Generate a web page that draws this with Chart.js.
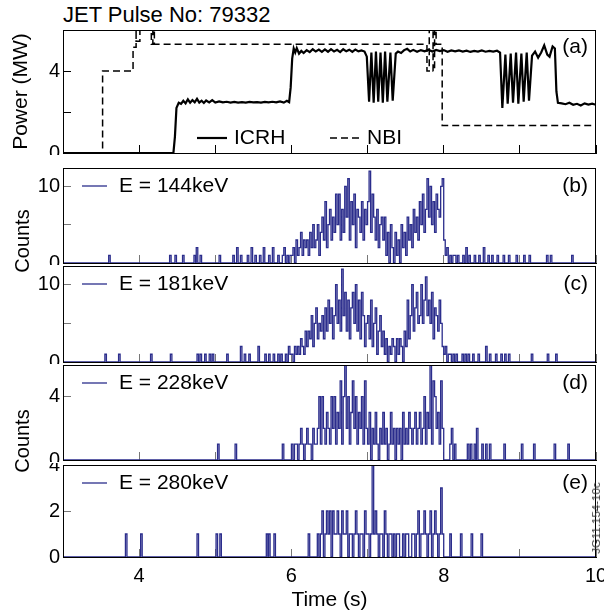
<!DOCTYPE html>
<html>
<head>
<meta charset="utf-8">
<script src="https://cdn.jsdelivr.net/npm/chart.js@4.4.0/dist/chart.umd.min.js"></script>
<style>
body { margin: 0; background: #fff; }
#wrap { position: relative; width: 604px; height: 613px; overflow: hidden; font-family: "Liberation Sans", Arial, sans-serif; color: #000; }
canvas { position: absolute; left: 0; }
.txt { position: absolute; white-space: nowrap; }
.rot { position: absolute; white-space: nowrap; transform: translate(-50%, -50%) rotate(-90deg); }
</style>
</head>
<body>
<div id="wrap">
  <div class="txt" style="left:63px;top:3px;font-size:22px;line-height:24px;">JET Pulse No: 79332</div>
  <canvas id="pa" width="604" height="127" style="top:28px"></canvas>
  <canvas id="pb" width="604" height="99" style="top:166px"></canvas>
  <canvas id="pc" width="604" height="100" style="top:264px"></canvas>
  <canvas id="pd" width="604" height="99" style="top:363px"></canvas>
  <canvas id="pe" width="604" height="150" style="top:463px"></canvas>
  <div class="rot" style="left:22px;top:241px;font-size:20px;">Counts</div>
  <div class="rot" style="left:22px;top:441px;font-size:20px;">Counts</div>
  <div class="rot" style="left:596px;top:518px;font-size:11.5px;color:#333;">JG11.154-10c</div>
</div>
<script>
// panel (a): heating power (MW)
var icrhT = [3.00, 4.45, 4.47, 4.49, 4.52, 4.55, 4.58, 4.61, 4.64, 4.67, 4.70, 4.73, 4.76, 4.79, 4.82, 4.85, 4.88, 4.92, 4.96,
  5.00, 5.05, 5.10, 5.15, 5.20, 5.25, 5.30, 5.35, 5.40, 5.45, 5.50, 5.55, 5.60, 5.65, 5.70, 5.75, 5.80, 5.85, 5.90, 5.94, 5.97,
  5.99, 6.01, 6.03, 6.05, 6.07, 6.10, 6.13, 6.16, 6.20, 6.24, 6.28, 6.32, 6.36, 6.40, 6.44, 6.48, 6.52, 6.56, 6.60, 6.64, 6.68,
  6.72, 6.76, 6.80, 6.84, 6.88, 6.92, 6.96, 6.99, 7.02, 7.05, 7.08, 7.11, 7.14, 7.17, 7.20, 7.23, 7.26, 7.30, 7.33, 7.37, 7.40,
  7.44, 7.48, 7.52, 7.56, 7.60, 7.65, 7.70, 7.75, 7.80, 7.85, 7.90, 7.95, 8.00, 8.05, 8.10, 8.15, 8.20, 8.25, 8.30, 8.35, 8.40,
  8.45, 8.50, 8.55, 8.60, 8.65, 8.70, 8.74, 8.77, 8.81, 8.84, 8.88, 8.91, 8.95, 8.98, 9.02, 9.05, 9.09, 9.12, 9.16, 9.20, 9.24,
  9.28, 9.32, 9.36, 9.39, 9.43, 9.46, 9.48, 9.50, 9.55, 9.60, 9.65, 9.70, 9.75, 9.80, 9.85, 9.90, 9.95, 10.00];
var icrhP = [0, 0, 0.8, 2.2, 2.45, 2.40, 2.55, 2.42, 2.62, 2.45, 2.58, 2.47, 2.64, 2.46, 2.55, 2.44, 2.56, 2.47, 2.58,
  2.46, 2.52, 2.47, 2.50, 2.46, 2.49, 2.46, 2.48, 2.46, 2.49, 2.47, 2.48, 2.46, 2.49, 2.47, 2.50, 2.47, 2.52, 2.46, 2.55, 2.48,
  3.2, 4.6, 5.1, 4.9, 5.12, 4.85, 4.98, 4.88, 5.02, 4.92, 5.06, 4.95, 5.04, 4.93, 5.05, 4.94, 5.07, 4.95, 5.03, 4.92, 5.06,
  4.96, 5.04, 4.93, 5.05, 4.96, 5.00, 4.95, 4.7, 2.5, 4.9, 2.45, 4.95, 2.5, 4.9, 2.45, 4.95, 2.5, 4.9, 2.55, 4.85, 4.95,
  4.88, 5.02, 5.08, 4.95, 5.03, 4.94, 5.02, 4.96, 5.04, 4.95, 5.03, 4.97, 5.02, 4.94, 5.00, 4.96, 5.00, 4.95, 4.99, 4.93, 4.98,
  4.95, 5.00, 4.94, 4.98, 4.95, 4.99, 4.9, 2.2, 4.8, 2.4, 4.85, 2.45, 4.9, 2.4, 4.85, 2.5, 4.9, 2.55, 4.75, 4.95, 4.65,
  4.9, 5.25, 4.8, 4.7, 5.2, 5.1, 3.0, 2.45, 2.42, 2.38, 2.45, 2.35, 2.40, 2.32, 2.42, 2.36, 2.41, 2.35];
var nbiT = [3.00, 3.52, 3.52, 3.92, 3.92, 3.96, 3.96, 3.96, 4.01, 4.01, 4.16, 4.16, 4.18, 4.18, 4.20, 4.20,
  7.78, 7.78, 7.81, 7.81, 7.86, 7.86, 7.88, 7.88, 7.90, 7.90, 7.98, 7.98, 10.00];
var nbiP = [0, 0, 4.0, 4.0, 5.16, 5.16, 6.6, 5.45, 5.45, 6.6, 6.6, 5.3, 5.3, 6.6, 6.6, 5.3,
  5.3, 4.0, 4.0, 6.6, 6.6, 4.0, 4.0, 6.6, 6.6, 5.3, 5.3, 1.34, 1.34];

// panels (b)-(e): counts in 0.02 s bins from 5.80 s to 8.20 s
var T0 = 5.80, DT = 0.02;
var energies = ['144', '181', '228', '280'];
var counts144 = [0,1,0,0,1,2,0,1,0,1, 1,2,0,3,1,2,4,1,3,2, 3,1,4,2,5,2,3,5,1,4, 6,3,8,2,5,7,3,6,4,9,
  5,9,3,7,4,10,6,11,3,8, 5,9,2,7,6,4,8,3,7,5, 8,12,4,9,6,3,7,2,5,6, 3,6,1,4,0,5,2,0,4,1,
  3,0,5,2,4,1,6,3,5,2, 7,4,6,3,8,5,9,4,7,11, 6,10,5,8,4,9,7,6,10,11, 3,1,2,0,1,0,1,1,0,1, 0];
var counts181 = [0,1,0,1,0,0,1,0,2,1, 1,0,2,1,2,1,3,2,1,4, 2,4,3,6,2,5,7,3,5,4, 6,3,7,4,8,5,7,3,6,10,
  5,8,4,12,6,9,4,8,3,7, 9,5,10,4,8,3,9,6,2,5, 6,3,8,2,5,7,1,4,6,2, 4,1,3,0,2,1,3,2,0,3,
  1,3,2,0,4,2,8,3,6,10, 4,7,9,5,6,10,5,8,11,6, 8,5,9,3,7,6,4,8,5,2, 1,2,0,1,1,0,1,0,1,0, 0];
var counts228 = [0,0,0,0,1,0,0,0,0,0, 1,0,1,1,0,1,2,1,0,1, 2,1,1,0,2,1,1,2,4,1, 4,2,1,3,2,1,4,2,4,1,
  3,2,5,1,4,6,2,4,1,3, 5,2,4,1,3,2,4,1,5,2, 1,3,0,2,1,3,1,0,2,1, 3,1,2,0,1,3,1,2,0,2,
  1,2,0,3,1,2,1,3,2,1, 2,3,1,2,3,1,2,4,1,3, 2,6,1,5,4,2,3,1,5,2, 0,0,0,0,1,2,0,1,0,0, 0];
var counts280 = [0,0,0,0,0,0,0,0,0,0, 0,0,0,0,0,0,0,0,0,0, 0,1,0,0,0,0,0,1,0,1, 2,0,1,2,1,2,0,2,1,1,
  2,1,0,2,1,1,2,0,1,1, 0,1,2,1,0,1,1,0,2,1, 1,0,1,4,1,2,1,0,1,1, 0,2,1,0,1,1,0,1,0,1,
  1,0,0,1,0,1,1,0,0,1, 1,0,1,2,0,1,1,2,1,0, 1,2,0,1,2,1,0,1,3,1, 0,0,0,0,1,0,0,0,0,0, 0];
// isolated counts outside that window: [time (s), counts]
var spikes144 = [[3.60,1],[4.40,1],[4.47,1],[4.57,1],[4.72,1],[4.75,2],[4.80,1],[5.05,1],[5.23,1],[5.28,2],[5.33,1],
  [5.42,1],[5.47,2],[5.52,1],[5.58,1],[5.63,2],[5.70,1],[5.75,2],[8.25,1],[8.29,2],[8.33,1],[8.40,1],[8.46,1],
  [8.52,2],[8.58,1],[8.63,1],[8.70,1],[8.78,1],[8.85,1],[8.95,1],[9.05,1],[9.12,1],[9.35,1],[9.40,1],[9.68,1]];
var spikes181 = [[3.55,1],[3.73,1],[4.15,1],[4.41,1],[4.76,1],[4.80,1],[4.86,1],[4.92,1],[4.96,1],[5.15,1],[5.33,2],
  [5.38,1],[5.44,1],[5.56,2],[5.65,1],[5.70,1],[5.76,1],[8.24,1],[8.28,1],[8.32,1],[8.38,1],[8.45,1],[8.55,2],
  [8.60,1],[8.68,1],[8.75,1],[8.80,1],[8.85,1],[9.15,1],[9.36,1],[9.47,1]];
var spikes228 = [[5.03,1],[5.26,1],[8.31,1],[8.35,1],[8.40,1],[8.43,2],[8.50,1],[8.55,1],[8.60,1],[8.79,1],
  [9.02,1],[9.18,1],[9.45,1],[9.63,1]];
var spikes280 = [[3.82,1],[4.02,1],[4.76,1],[5.01,1],[5.06,1],[5.67,1],[5.70,1],[5.77,1],[8.22,1],[8.36,1],[8.49,1]];

var BLUE = '#2b2d8c';
Chart.defaults.font.family = '"Liberation Sans", Arial, sans-serif';
Chart.defaults.color = '#000';

function pairs(tt, vv) {
  var out = [];
  for (let i = 0; i < tt.length; i++) out.push({x: tt[i], y: vv[i]});
  return out;
}

function countSeries(dense, spikes) {
  var pts = [{x: 3, y: 0}];
  var tEnd = T0 + (dense.length - 1) * DT;
  spikes.filter(s => s[0] < T0).forEach(s => { pts.push({x: s[0], y: s[1]}, {x: s[0] + DT, y: 0}); });
  for (let i = 0; i < dense.length; i++) pts.push({x: +(T0 + i * DT).toFixed(2), y: dense[i]});
  spikes.filter(s => s[0] > tEnd).forEach(s => { pts.push({x: s[0], y: s[1]}, {x: s[0] + DT, y: 0}); });
  pts.push({x: 10, y: 0});
  return pts;
}

// frame, panel letter and in-plot legend
var panelDeco = {
  id: 'panelDeco',
  afterDraw(chart, args, o) {
    var ctx = chart.ctx, a = chart.chartArea;
    ctx.save();
    ctx.strokeStyle = '#000';
    ctx.lineWidth = 1;
    ctx.strokeRect(a.left + 0.5, a.top + 0.5, a.right - a.left - 1, a.bottom - a.top);
    ctx.font = '21px "Liberation Sans", Arial, sans-serif';
    ctx.fillStyle = '#000';
    ctx.textBaseline = 'middle';
    ctx.textAlign = 'right';
    ctx.fillText(o.label, a.right - 8, a.top + o.labelDy);
    ctx.textAlign = 'left';
    o.items.forEach(it => {
      var ds = chart.data.datasets[it.ds];
      var y = it.fromBottom ? a.bottom - it.dy : a.top + it.dy;
      ctx.strokeStyle = ds.borderColor;
      ctx.lineWidth = ds.borderWidth;
      ctx.setLineDash(ds.borderDash || []);
      ctx.beginPath();
      ctx.moveTo(it.x, y);
      ctx.lineTo(it.x + it.len, y);
      ctx.stroke();
      ctx.setLineDash([]);
      ctx.fillText(ds.label, it.x + it.len + it.gap, y);
    });
    ctx.restore();
  }
};

function xScale(showLabels, tickCol) {
  return {
    type: 'linear', min: 3, max: 10,
    ticks: {stepSize: 1, display: showLabels, padding: 15, maxRotation: 0, autoSkip: false,
      font: {size: 20}, callback: v => (v % 2 === 0 ? v : '')},
    grid: {drawOnChartArea: false, tickLength: -8, color: tickCol},
    border: {color: '#000'},
    title: {display: showLabels, text: 'Time (s)', font: {size: 21}, padding: {bottom: 0}},
    afterFit: s => {
      s.height = showLabels ? 56 : 2;
      s.paddingLeft = 0; s.paddingRight = 0; s.paddingTop = 0; s.paddingBottom = 0;
    }
  };
}

function yScale(max, step, every, tickCol, title) {
  return {
    min: 0, max: max,
    ticks: {stepSize: step, includeBounds: false, padding: 11, font: {size: 20},
      callback: v => (v % every === 0 ? v : '')},
    grid: {drawOnChartArea: false, tickLength: -8, color: tickCol},
    border: {color: '#000'},
    title: {display: !!title, text: title || '', font: {size: 21}, padding: {top: 9}},
    afterFit: s => {
      s.width = 63;
      s.paddingLeft = 0; s.paddingRight = 0; s.paddingTop = 0; s.paddingBottom = 0;
    }
  };
}

function baseOptions(x, y, deco) {
  return {
    responsive: false,
    animation: false,
    layout: {padding: {left: 0, right: 8, top: 2, bottom: 0}},
    elements: {point: {radius: 0}},
    scales: {x: x, y: y},
    plugins: {legend: {display: false}, tooltip: {enabled: false}, panelDeco: deco}
  };
}

new Chart(document.getElementById('pa'), {
  type: 'line',
  data: {
    datasets: [
      {label: 'ICRH', data: pairs(icrhT, icrhP), borderColor: '#000', borderWidth: 2.2, tension: 0},
      {label: 'NBI', data: pairs(nbiT, nbiP), borderColor: '#000', borderWidth: 1.5, borderDash: [7, 4], tension: 0}
    ]
  },
  options: baseOptions(xScale(false, '#000'), yScale(6, 2, 4, '#000', 'Power (MW)'), {
    label: '(a)', labelDy: 17,
    items: [
      {ds: 0, x: 197, len: 30, gap: 7, dy: 15, fromBottom: true},
      {ds: 1, x: 330, len: 30, gap: 7, dy: 15, fromBottom: true}
    ]
  }),
  plugins: [panelDeco]
});

var countPanels = [
  {id: 'pb', dense: counts144, spikes: spikes144, max: 12.4, step: 5, every: 10, letter: '(b)'},
  {id: 'pc', dense: counts181, spikes: spikes181, max: 12.4, step: 5, every: 10, letter: '(c)'},
  {id: 'pd', dense: counts228, spikes: spikes228, max: 6, step: 2, every: 4, letter: '(d)'},
  {id: 'pe', dense: counts280, spikes: spikes280, max: 4, step: 1, every: 2, letter: '(e)'}
];

countPanels.forEach((p, i) => {
  var last = i === countPanels.length - 1;
  new Chart(document.getElementById(p.id), {
    type: 'line',
    data: {
      datasets: [{
        label: 'E = ' + energies[i] + 'keV',
        data: countSeries(p.dense, p.spikes),
        borderColor: BLUE, borderWidth: 1.3, stepped: true
      }]
    },
    options: baseOptions(xScale(last, '#777'), yScale(p.max, p.step, p.every, '#777'), {
      label: p.letter, labelDy: 18,
      items: [{ds: 0, x: 82, len: 25, gap: 12, dy: 18}]
    }),
    plugins: [panelDeco]
  });
});
</script>
</body>
</html>
